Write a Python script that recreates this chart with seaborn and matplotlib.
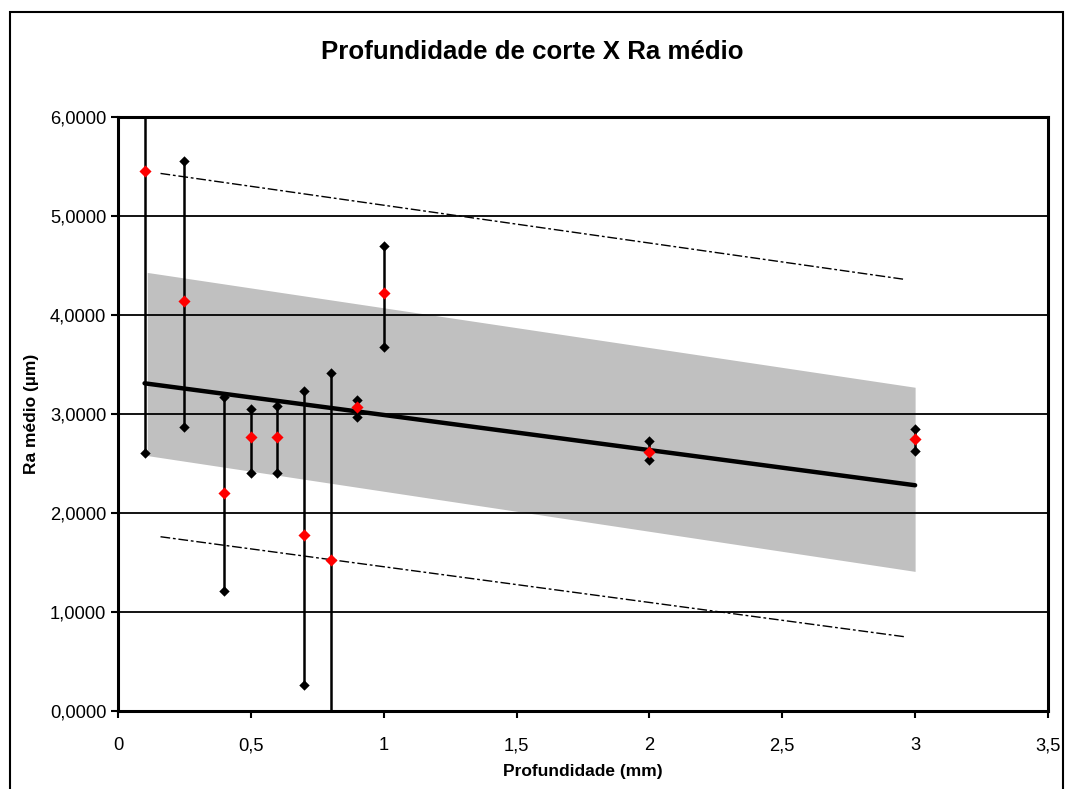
import numpy as np
import pandas as pd
import matplotlib
matplotlib.use("Agg")
import matplotlib.pyplot as plt
import seaborn as sns
from matplotlib.patches import Rectangle
from matplotlib.ticker import FuncFormatter

# profundidade de corte (mm) and Ra medio / max / min (um)
depth = [0.1, 0.25, 0.4, 0.5, 0.6, 0.7, 0.8, 0.9, 1.0, 2.0, 3.0]
ra_mean = [5.45, 4.14, 2.20, 2.77, 2.77, 1.78, 1.52, 3.07, 4.22, 2.62, 2.75]
ra_max = [6.50, 5.56, 3.17, 3.05, 3.08, 3.23, 3.41, 3.14, 4.70, 2.73, 2.85]
ra_min = [2.61, 2.87, 1.21, 2.40, 2.40, 0.26, -0.50, 2.97, 3.68, 2.54, 2.63]

# fitted line, confidence band and prediction limits
fit_x = [0.1, 3.0]
fit_y = [3.31, 2.28]
band_x = [0.11, 3.0]
band_top = [4.43, 3.27]
band_bottom = [2.58, 1.41]
pred_x = [0.16, 2.96]
pred_upper = [5.43, 4.36]
pred_lower = [1.76, 0.75]

sns.set_style("white")
plt.rcParams['font.family'] = ['Liberation Sans', 'DejaVu Sans']
plt.rcParams['text.color'] = 'black'
plt.rcParams['axes.labelcolor'] = 'black'

fig = plt.figure(figsize=(10.65, 7.89), dpi=100)
ax = fig.add_axes([0.1108, 0.0989, 0.8732, 0.7528])

fig.patches.append(Rectangle((10 / 1065, -0.01), 1053 / 1065, 1 - 12 / 789 + 0.01,
                             transform=fig.transFigure, fill=False,
                             edgecolor="black", linewidth=1.5))

ax.fill_between(band_x, band_bottom, band_top, color="#c0c0c0", linewidth=0, zorder=1)

for y in [1, 2, 3, 4, 5]:
    ax.axhline(y, color="black", linewidth=1.3, zorder=1.5)

pred = pd.DataFrame({"x": pred_x + pred_x,
                     "y": pred_upper + pred_lower,
                     "g": ["up", "up", "low", "low"]})
sns.lineplot(data=pred, x="x", y="y", units="g", estimator=None, color="black",
             linewidth=1.0, linestyle=(0, (7, 2, 2, 2)), ax=ax, zorder=2)

sns.lineplot(x=fit_x, y=fit_y, color="black", linewidth=3.2, ax=ax, zorder=3)

ax.vlines(depth, ra_min, ra_max, color="black", linewidth=1.8, zorder=4)
ends = pd.DataFrame({"x": depth + depth, "y": ra_max + ra_min})
sns.scatterplot(data=ends, x="x", y="y", marker="D", s=28, color="black",
                edgecolor="black", linewidth=0, ax=ax, zorder=5)
sns.scatterplot(x=depth, y=ra_mean, marker="D", s=38, color="red",
                edgecolor="red", linewidth=0, ax=ax, zorder=6)

ax.set_xlim(0, 3.5)
ax.set_ylim(0, 6)
ax.set_xticks(np.arange(0, 3.51, 0.5))
ax.set_yticks(np.arange(0, 6.01, 1))
ax.xaxis.set_major_formatter(FuncFormatter(lambda v, p: f"{v:g}".replace(".", ",")))
ax.yaxis.set_major_formatter(FuncFormatter(lambda v, p: f"{v:.4f}".replace(".", ",")))
ax.tick_params(axis="both", direction="out", length=5, width=1.5, labelsize=13.2,
               colors="black", bottom=True, left=True)
ax.tick_params(axis="x", pad=14)
for s in ax.spines.values():
    s.set_linewidth(2.2)
    s.set_color("black")

ax.set_xlabel("Profundidade (mm)", fontsize=12.5, fontweight="bold", labelpad=7)
ax.set_ylabel("Ra médio (µm)", fontsize=12.5, fontweight="bold", labelpad=8)
fig.text(0.5 + 0.0, 1 - 52 / 789, "Profundidade de corte X Ra médio", ha="center",
         va="center", fontsize=18.6, fontweight="bold")

fig.savefig("out.png", dpi=100)
